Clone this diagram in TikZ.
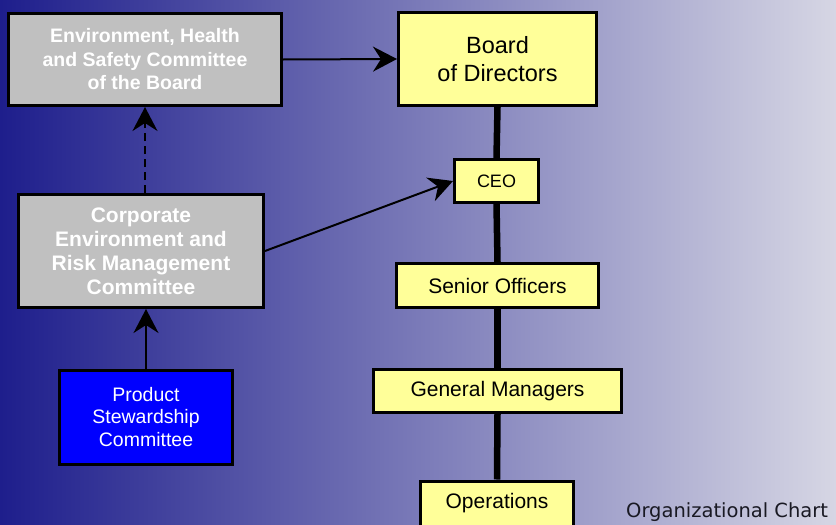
\documentclass[tikz,border=0pt]{standalone}
\usepackage{fontspec}
\setmainfont{Liberation Sans}
\newfontfamily\chartfont{DejaVu Sans}
\usetikzlibrary{arrows.meta}
\definecolor{bgleft}{RGB}{30,30,140}
\definecolor{bgright}{RGB}{214,214,228}
\definecolor{boxgray}{RGB}{192,192,192}
\definecolor{boxyellow}{RGB}{255,255,153}
\definecolor{boxblue}{RGB}{0,0,255}
\definecolor{captext}{RGB}{25,25,35}
\tikzset{
  basebox/.style={draw=black, line width=3pt, rectangle, align=center, inner sep=0pt},
  graybox/.style={basebox, fill=boxgray, text=white, font=\bfseries\fontsize{19.5}{23.5}\selectfont},
  yellowbox/.style={basebox, fill=boxyellow, text=black, font=\fontsize{21}{25}\selectfont},
  bluebox/.style={basebox, fill=boxblue, text=white, font=\fontsize{19.5}{22.5}\selectfont},
  arr/.style={line width=2pt, -{Stealth[length=24pt,width=25pt,inset=8pt]}},
  spine/.style={line width=6.5pt},
}
\begin{document}
\begin{tikzpicture}[x=1pt,y=-1pt]
\useasboundingbox (0,0) rectangle (836,525);
\shade[left color=bgleft, right color=bgright] (0,0) rectangle (836,525);
\begin{scope}
\clip (0,0) rectangle (836,525);
% nodes
\node[graybox, minimum width=273pt, minimum height=92pt] (ehs) at (145,59.5)
  {Environment, Health\\and Safety Committee\\of the Board};
\node[yellowbox, minimum width=198pt, minimum height=93pt, font=\fontsize{23.5}{28}\selectfont] (board) at (497.5,59)
  {Board\\of Directors};
\node[yellowbox, minimum width=84pt, minimum height=43pt, font=\fontsize{18}{22}\selectfont] (ceo) at (496.5,181) {CEO};
\node[yellowbox, minimum width=202pt, minimum height=44pt] (senior) at (497.5,285.5) {Senior Officers};
\node[yellowbox, minimum width=248pt, minimum height=43pt] (gm) at (497.5,391) {General Managers};
\node[yellowbox, minimum width=153pt, minimum height=45pt] (ops) at (497,503.5) {Operations};
\node[graybox, minimum width=245pt, minimum height=113pt, font=\bfseries\fontsize{21}{24}\selectfont] (corp) at (141,251)
  {Corporate\\Environment and\\Risk Management\\Committee};
\node[bluebox, minimum width=173pt, minimum height=94pt] (psc) at (146,417)
  {Product\\Stewardship\\Committee};
% spine
\draw[spine] (board.south) -- (ceo.north);
\draw[spine] (ceo.south) -- (senior.north);
\draw[spine] (senior.south) -- (gm.north);
\draw[spine] (gm.south) -- (ops.north);
% arrows
\draw[arr] (ehs.east) -- (board.west);
\draw[arr, dash pattern=on 8pt off 5pt] (ehs.south |- corp.north) -- (ehs.south);
\draw[arr] (psc.north) -- (psc.north |- corp.south);
\draw[arr] (corp.east) -- (ceo.west);
% caption
\node[anchor=base west, inner sep=0pt, text=captext, font=\chartfont\fontsize{19.5}{23}\selectfont] (cap) at (626,517) {Organizational Chart};
\end{scope}
\end{tikzpicture}
\end{document}
